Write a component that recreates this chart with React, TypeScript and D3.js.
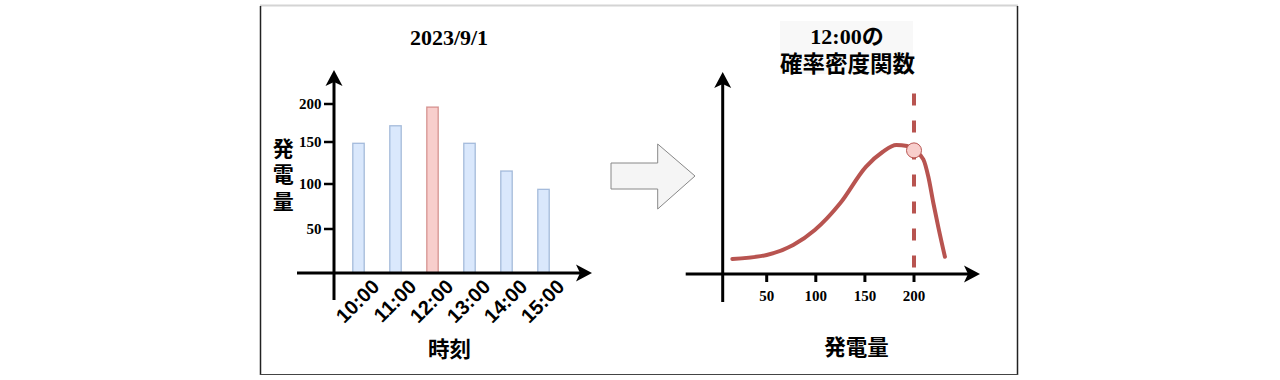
import React from "react";
import * as d3 from "d3";

// ---- data ----
const title = "2023/9/1";
const hours = ["10:00", "11:00", "12:00", "13:00", "14:00", "15:00"];
const power = [148.5, 171.4, 196, 148.5, 115.5, 94.1];
const highlight = "12:00";
const yTicks = [50, 100, 150, 200];

const pdfTitle1 = "12:00の";
const pdfTitle2 = "確率密度関数";
const pdfXTicks = [50, 100, 150, 200];
const pdfX = [15, 50, 77, 99, 125, 151, 168, 182, 193, 200, 209.5, 214.6, 219.7, 224.7, 231.5];
const pdfY = [7.5, 9.5, 14.5, 22, 35.5, 53.6, 61, 64.5, 64.0, 61.8, 57.3, 48.6, 35.5, 23.6, 8.6];
const observed = 200;

const SERIF = "'Liberation Serif', 'Times New Roman', serif";
const SANS = "'Liberation Sans', Arial, sans-serif";
const CJK = "'Noto Sans CJK JP', 'Noto Sans', sans-serif";

const RED = "#b85450";

function ArrowHead({ x, y, dir }: { x: number; y: number; dir: "up" | "right" }) {
  const L = 16, W = 8.5, N = 4;
  const d =
    dir === "up"
      ? `M${x},${y} L${x + W},${y + L} L${x},${y + L - N} L${x - W},${y + L} Z`
      : `M${x},${y} L${x - L},${y - W} L${x - L + N},${y} L${x - L},${y + W} Z`;
  return <path d={d} fill="#000" />;
}

export default function App() {
  // left chart scales
  const yL = d3.scaleLinear().domain([0, 50, 100, 150, 200]).range([273, 229, 184, 142, 104]);
  const xL = d3.scalePoint<string>().domain(hours).range([358.5, 543.5]);
  const barW = 11.5;
  const axisYL = 273;
  const axisXL = 334;

  // right chart scales
  const xR = d3.scaleLinear().domain([0, 200]).range([717.6, 914]);
  const yR = d3.scaleLinear().domain([0, 100]).range([274, 74]);
  const axisYR = 274;
  const axisXR = 722.7;

  const line = d3
    .line<number>()
    .x((_, i) => xR(pdfX[i]))
    .y((d) => yR(d))
    .curve(d3.curveMonotoneX);
  const pdfPath = line(pdfY) || "";
  const obsIdx = pdfX.indexOf(observed);

  return (
    <svg
      width={1280}
      height={380}
      style={{ position: "absolute", left: 0, top: 0, background: "#fff" }}
    >
      {/* frame */}
      <line x1={260} y1={5.5} x2={1018} y2={5.5} stroke="#d4d4d4" strokeWidth={2} />
      <line x1={260.5} y1={6} x2={260.5} y2={375} stroke="#222" strokeWidth={1.5} />
      <line x1={1017.5} y1={6} x2={1017.5} y2={375} stroke="#222" strokeWidth={1.5} />
      <line x1={260} y1={374.5} x2={1018} y2={374.5} stroke="#444" strokeWidth={1.2} />

      {/* ---- left chart ---- */}
      <text x={449} y={45} textAnchor="middle" fontFamily={SERIF} fontWeight="bold" fontSize={22}>
        {title}
      </text>

      {hours.map((h, i) => {
        const isHi = h === highlight;
        const x = (xL(h) as number) - barW / 2;
        const yTop = yL(power[i]);
        return (
          <rect
            key={h}
            x={x}
            y={yTop}
            width={barW}
            height={axisYL - yTop}
            fill={isHi ? "#f8cecc" : "#dae8fc"}
            stroke={isHi ? RED : "#6c8ebf"}
            strokeOpacity={0.55}
            strokeWidth={1.3}
          />
        );
      })}

      {/* axes */}
      <line x1={axisXL} y1={300} x2={axisXL} y2={80} stroke="#000" strokeWidth={3} />
      <ArrowHead x={axisXL} y={70} dir="up" />
      <line x1={297} y1={axisYL} x2={582} y2={axisYL} stroke="#000" strokeWidth={3} />
      <ArrowHead x={592} y={axisYL} dir="right" />

      {yTicks.map((t) => (
        <g key={t}>
          <line x1={324} x2={axisXL} y1={yL(t)} y2={yL(t)} stroke="#000" strokeWidth={2.5} />
          <text
            x={321.5}
            y={yL(t) + 5}
            textAnchor="end"
            fontFamily={SERIF}
            fontWeight="bold"
            fontSize={15}
          >
            {t}
          </text>
        </g>
      ))}

      {hours.map((h) => {
        const cx = (xL(h) as number) + 22;
        const cy = 288;
        return (
          <text
            key={h}
            x={cx}
            y={cy}
            textAnchor="end"
            transform={`rotate(-45 ${cx} ${cy})`}
            fontFamily={SANS}
            fontWeight="bold"
            fontSize={20}
          >
            {h}
          </text>
        );
      })}

      <text x={283.3} fontFamily={CJK} fontWeight="bold" fontSize={21} textAnchor="middle">
        {"発電量".split("").map((c, i) => (
          <tspan key={i} x={283.3} y={155.5 + i * 26.5}>
            {c}
          </tspan>
        ))}
      </text>
      <text x={449.5} y={357} textAnchor="middle" fontFamily={CJK} fontWeight="bold" fontSize={21.5}>
        時刻
      </text>

      {/* ---- middle arrow ---- */}
      <path
        d="M611,163 L657.7,163 L657.7,144 L695,176 L657.7,209 L657.7,189 L611,189 Z"
        fill="#f5f5f5"
        stroke="#888"
        strokeWidth={1}
      />

      {/* ---- right chart ---- */}
      <rect x={780} y={21} width={133} height={53} fill="#f8f8f8" />
      <text x={847} y={44} textAnchor="middle" fontFamily={`${SERIF}, ${CJK}`} fontWeight="bold" fontSize={22}>
        {pdfTitle1}
      </text>
      <text x={847.5} y={71.5} textAnchor="middle" fontFamily={CJK} fontWeight="bold" fontSize={22.5}>
        {pdfTitle2}
      </text>

      <line x1={axisXR} y1={302} x2={axisXR} y2={82} stroke="#000" strokeWidth={3} />
      <ArrowHead x={axisXR} y={72} dir="up" />
      <line x1={685.7} y1={axisYR} x2={970} y2={axisYR} stroke="#000" strokeWidth={3} />
      <ArrowHead x={980} y={axisYR} dir="right" />

      {pdfXTicks.map((t) => (
        <g key={t}>
          <line x1={xR(t)} x2={xR(t)} y1={axisYR} y2={282} stroke="#000" strokeWidth={3} />
          <text x={xR(t)} y={301} textAnchor="middle" fontFamily={SERIF} fontWeight="bold" fontSize={15}>
            {t}
          </text>
        </g>
      ))}

      <line
        x1={xR(observed)}
        x2={xR(observed)}
        y1={93.5}
        y2={axisYR}
        stroke={RED}
        strokeWidth={4}
        strokeDasharray="12 15"
      />

      <path d={pdfPath} fill="none" stroke={RED} strokeWidth={4} strokeLinecap="round" />
      <circle cx={xR(observed)} cy={yR(pdfY[obsIdx])} r={7.5} fill="#f8cecc" stroke={RED} strokeWidth={1} />

      <text x={856.5} y={354.5} textAnchor="middle" fontFamily={CJK} fontWeight="bold" fontSize={21.5}>
        発電量
      </text>
    </svg>
  );
}
